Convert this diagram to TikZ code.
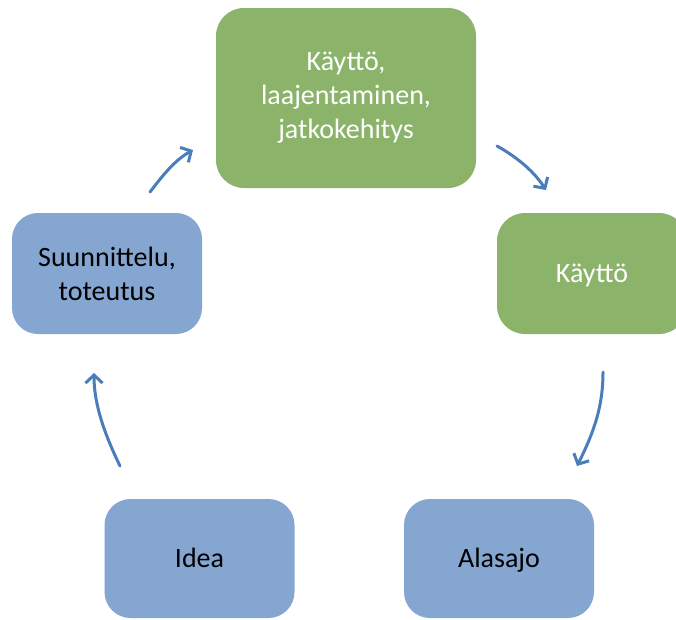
\documentclass[tikz,border=0pt]{standalone}
\usepackage{fontspec}
\setmainfont{Carlito}
\usetikzlibrary{arrows.meta}
\definecolor{boxgreen}{HTML}{8BB36A}
\definecolor{boxblue}{HTML}{85A6D0}
\definecolor{arrowblue}{HTML}{4A7EBB}
\tikzset{
  greenbox/.style={fill=boxgreen, draw=none, rounded corners=28pt, inner sep=0pt, text=white, align=center, font=\fontsize{28}{34}\selectfont},
  bluebox/.style={fill=boxblue, draw=none, rounded corners=26pt, inner sep=0pt, text=black, align=center, font=\fontsize{28}{34}\selectfont},
  oneline/.style={text height=18pt, text depth=0pt},
  cyc/.style={draw=arrowblue, line width=3pt, line cap=round, -{Straight Barb[length=8pt,width=17pt,line width=3pt]}}
}
\begin{document}
\begin{tikzpicture}[x=1pt,y=-1pt]
\clip (0,0) rectangle (676,619);
\fill[white] (0,0) rectangle (676,619);
\node[greenbox, minimum width=260pt, minimum height=180pt] (top) at (346,98) {Käyttö,\\laajentaminen,\\jatkokehitys};
\node[greenbox, oneline, minimum width=190pt, minimum height=121pt] (kaytto) at (592,273.5) {Käyttö};
\node[bluebox, minimum width=190pt, minimum height=121pt] (suun) at (107,273.5) {Suunnittelu,\\toteutus};
\node[bluebox, oneline, minimum width=190pt, minimum height=119pt] (idea) at (199.5,558.5) {Idea};
\node[bluebox, oneline, minimum width=190pt, minimum height=119pt] (alas) at (499,558.5) {Alasajo};
\coordinate (a1s) at (497,146);
\coordinate (a1e) at (546,190);
\coordinate (a2s) at (603,372);
\coordinate (a2e) at (577,466);
\coordinate (a3s) at (120,466);
\coordinate (a3e) at (94,373);
\coordinate (a4s) at (150,192);
\coordinate (a4e) at (193,150);
\draw[cyc] (a1s) .. controls (515,156) and (533,170) .. (a1e);
\draw[cyc] (a2s) .. controls (603,405) and (595,430) .. (a2e);
\draw[cyc] (a3s) .. controls (105,435) and (94,405) .. (a3e);
\draw[cyc] (a4s) .. controls (163,175) and (175,160) .. (a4e);
\end{tikzpicture}
\end{document}
